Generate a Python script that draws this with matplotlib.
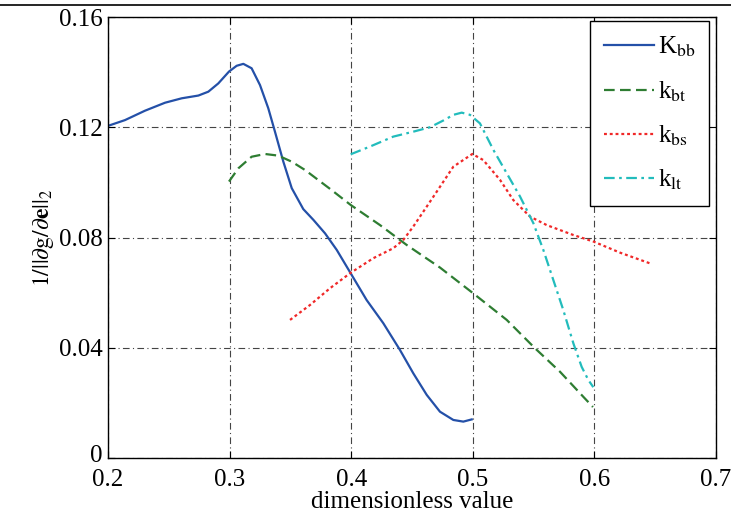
import numpy as np
import matplotlib.pyplot as plt
import matplotlib.transforms as mtransforms
from matplotlib.lines import Line2D

plt.rcParams['font.family'] = ['Liberation Serif', 'DejaVu Serif']
plt.rcParams['mathtext.fontset'] = 'stix'

# K_bb
x_bb = [0.200, 0.214, 0.2304, 0.2469, 0.2606, 0.2743, 0.2825, 0.2907, 0.2995,
        0.3058, 0.3113, 0.3181, 0.3250, 0.3318, 0.3373, 0.3442, 0.3511, 0.3606,
        0.3689, 0.3785, 0.3881, 0.3996, 0.4127, 0.4264, 0.4401, 0.4511, 0.4621,
        0.4730, 0.4840, 0.4922, 0.4991]
y_bb = [0.1205, 0.1226, 0.1260, 0.1289, 0.1305, 0.1315, 0.1329, 0.1359, 0.1402,
        0.1423, 0.1430, 0.1414, 0.1353, 0.1269, 0.1184, 0.1075, 0.0979, 0.0903,
        0.0864, 0.0815, 0.0755, 0.0670, 0.0573, 0.0489, 0.0392, 0.0307, 0.0229,
        0.0168, 0.0138, 0.0132, 0.0140]
# k_bt
x_bt = [0.2995, 0.3072, 0.3181, 0.3291, 0.3401, 0.3511, 0.3620, 0.3839, 0.3996,
        0.4237, 0.4456, 0.4730, 0.4996, 0.5279, 0.5512, 0.5717, 0.5909, 0.5988]
y_bt = [0.1003, 0.1051, 0.1093, 0.1103, 0.1097, 0.1075, 0.1045, 0.0972, 0.0918,
        0.0845, 0.0773, 0.0691, 0.0600, 0.0501, 0.0398, 0.0313, 0.0222, 0.0185]
# k_bs
x_bs = [0.3497, 0.3661, 0.3826, 0.3996, 0.4182, 0.4346, 0.4428, 0.4511, 0.4621,
        0.4703, 0.4840, 0.4996, 0.5086, 0.5224, 0.5333, 0.5470, 0.5608, 0.5827,
        0.5994, 0.6211, 0.6471]
y_bs = [0.0501, 0.0555, 0.0616, 0.0672, 0.0725, 0.0761, 0.0791, 0.0840, 0.0912,
        0.0966, 0.1057, 0.1103, 0.1081, 0.1009, 0.0936, 0.0876, 0.0845, 0.0809,
        0.0785, 0.0745, 0.0704]
# k_lt
x_lt = [0.3996, 0.4155, 0.4346, 0.4511, 0.4648, 0.4760, 0.4840, 0.4909, 0.4977,
        0.5059, 0.5169, 0.5279, 0.5388, 0.5498, 0.5580, 0.5662, 0.5744, 0.5827,
        0.5895, 0.5950, 0.5991]
y_lt = [0.1102, 0.1130, 0.1166, 0.1184, 0.1200, 0.1225, 0.1245, 0.1253, 0.1245,
        0.1214, 0.1118, 0.1033, 0.0949, 0.0852, 0.0755, 0.0646, 0.0537, 0.0416,
        0.0331, 0.0283, 0.0257]

xticks = [0.2, 0.3, 0.4, 0.5, 0.6, 0.7]
yticks = [0, 0.04, 0.08, 0.12, 0.16]
xtick_labels = ['0.2', '0.3', '0.4', '0.5', '0.6', '0.7']
ytick_labels = ['0', '0.04', '0.08', '0.12', '0.16']

fig = plt.figure(figsize=(7.31, 5.2), dpi=100)
ax = fig.add_axes([108/731, 1 - 458/520, (716 - 108)/731, (458 - 17)/520])

lw = 1.6
ax.plot(x_bb, y_bb, color='#2450a8', lw=lw, label=r'K$_{\rm bb}$')
ax.plot(x_bt, y_bt, color='#2e7d32', lw=lw, dashes=(4.8, 2.4), label=r'k$_{\rm bt}$')
ax.plot(x_bs, y_bs, color='#f02828', lw=lw, dashes=(1.3, 1.3), label=r'k$_{\rm bs}$')
ax.plot(x_lt, y_lt, color='#22bcbc', lw=lw, dashes=(4.8, 2.0, 1.2, 2.0), label=r'k$_{\rm lt}$')

ax.set_xlim(0.2, 0.7)
ax.set_ylim(0, 0.16)
ax.set_xticks(xticks)
ax.set_xticklabels(xtick_labels)
ax.set_yticks(yticks)
ax.set_yticklabels(ytick_labels)
ax.tick_params(direction='in', length=5, width=0.8, labelsize=18,
               top=True, right=True)
ax.tick_params(axis='x', pad=8)
ax.tick_params(axis='y', pad=4)
# lift the y "0" slightly so it clears the x "0.2"
lift = mtransforms.ScaledTranslation(0, 3/72, fig.dpi_scale_trans)
for t in ax.yaxis.get_major_ticks()[:1]:
    t.label1.set_transform(t.label1.get_transform() + lift)
ax.grid(True, color='#444444', linestyle=(0, (6, 3, 1, 3)), linewidth=0.8)
for s in ax.spines.values():
    s.set_linewidth(1.0)

ax.set_xlabel('dimensionless value', fontsize=18, labelpad=0)
ax.set_ylabel(r'$1/||\partial \mathrm{g}/\partial \mathbf{e}||_2$', fontsize=17, labelpad=2)

leg = ax.legend(loc='upper right', bbox_to_anchor=(0.9885, 0.99), fontsize=18,
                handlelength=2.0, labelspacing=0.8, handletextpad=0.15,
                borderpad=0.55, borderaxespad=0.0, fancybox=False,
                framealpha=1, edgecolor='black')
leg.get_frame().set_linewidth(1.0)

# rule across the top of the page
fig.add_artist(Line2D([0, 1], [1 - 5/520, 1 - 5/520], color='black', lw=1.2,
                      transform=fig.transFigure))

fig.savefig('out.png', dpi=100)
